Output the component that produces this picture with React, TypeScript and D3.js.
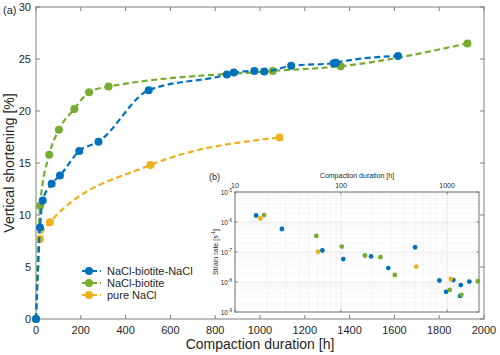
import React from "react";
import * as d3 from "d3";

// ---- Data (main panel a) ----
const blueMainT = [0, 18, 30, 70, 107, 193, 279, 503, 852, 883, 975, 1019, 1139, 1329, 1339, 1616];
const blueMainV = [0, 8.8, 11.4, 13.0, 13.8, 16.15, 17.05, 22.0, 23.5, 23.7, 23.85, 23.8, 24.35, 24.6, 24.65, 25.3];
const greenMainT = [0, 18, 59, 102, 171, 237, 324, 1057, 1360, 1926];
const greenMainV = [0, 10.9, 15.8, 18.2, 20.2, 21.8, 22.35, 23.85, 24.3, 26.5];
const orangeMainT = [0, 18, 62, 511, 1087];
const orangeMainV = [0, 7.7, 9.3, 14.8, 17.45];

// ---- Data (inset panel b) ----
const blueRateT = [15.8, 27.7, 66.7, 105, 192, 279, 499, 846, 979, 1146, 1346, 1327, 1622];
const blueRateV = [1.65e-6, 5.85e-7, 1.12e-7, 5.8e-8, 7.1e-8, 2.92e-8, 1.44e-7, 1.12e-8, 4.7e-9, 1.16e-8, 7.9e-9, 3.43e-9, 1.03e-8];
const greenRateT = [18.8, 58.5, 101.6, 168, 235, 321, 1059, 1365, 1950];
const greenRateV = [1.7e-6, 3.44e-7, 1.52e-7, 7.65e-8, 6.73e-8, 1.71e-8, 5.46e-9, 3.73e-9, 1.06e-8];
const orangeRateT = [17.3, 60.7, 511, 1084];
const orangeRateV = [1.31e-6, 1.02e-7, 3.24e-8, 1.26e-8];

const seriesNames = ["NaCl-biotite-NaCl", "NaCl-biotite", "pure NaCl"];
const colors = ["#0072BD", "#77AC30", "#EDB120"];

const xTicks = [0, 200, 400, 600, 800, 1000, 1200, 1400, 1600, 1800, 2000];
const yTicks = [0, 5, 10, 15, 20, 25, 30];
const insetXTicks = [10, 100, 1000];
const insetYExp = [-5, -6, -7, -8, -9];

const FONT = "'Liberation Sans', Arial, Helvetica, sans-serif";

export default function App() {
  const W = 500, H = 355;
  const L = 36, R = 484, T = 7, B = 319;
  const x = d3.scaleLinear().domain([0, 2000]).range([L, R]);
  const y = d3.scaleLinear().domain([0, 30]).range([B, T]);
  const line = d3
    .line<[number, number]>()
    .x((d) => x(d[0]))
    .y((d) => y(d[1]))
    .curve(d3.curveMonotoneX);

  const mains = [
    { t: blueMainT, v: blueMainV, c: colors[0] },
    { t: greenMainT, v: greenMainV, c: colors[1] },
    { t: orangeMainT, v: orangeMainV, c: colors[2] },
  ];
  const drawOrder = [2, 1, 0];

  // inset
  const iL = 235, iR = 479, iT = 192, iB = 312;
  const ix = d3.scaleLog().domain([10, 2000]).range([iL, iR]);
  const iy = d3.scaleLog().domain([1e-9, 1e-5]).range([iB, iT]);
  const rates = [
    { t: blueRateT, v: blueRateV, c: colors[0] },
    { t: greenRateT, v: greenRateV, c: colors[1] },
    { t: orangeRateT, v: orangeRateV, c: colors[2] },
  ];
  const minorX: number[] = [];
  for (const dec of [10, 100, 1000]) {
    for (let k = 2; k <= 9; k++) {
      const v = dec * k;
      if (v <= 2000) minorX.push(v);
    }
  }
  const minorY: number[] = [];
  for (let e = -9; e < -5; e++) {
    for (let k = 2; k <= 9; k++) minorY.push(k * Math.pow(10, e));
  }

  const axisGrey = "#7f7f7f";
  const tickText = "#262626";

  return (
    <svg width={W} height={H} style={{ position: "absolute", left: 0, top: 0, background: "#fff" }} fontFamily={FONT}>
      <rect x={0} y={0} width={W} height={H} fill="#fff" />
      {/* main axes box */}
      <rect x={L} y={T} width={R - L} height={B - T} fill="none" stroke={axisGrey} strokeWidth={1} />
      {xTicks.map((t) => (
        <g key={"xt" + t}>
          <line x1={x(t)} x2={x(t)} y1={B} y2={B - 4} stroke={axisGrey} />
          <line x1={x(t)} x2={x(t)} y1={T} y2={T + 4} stroke={axisGrey} />
          <text x={x(t)} y={B + 15} fontSize={11} textAnchor="middle" fill={tickText}>
            {t}
          </text>
        </g>
      ))}
      {yTicks.map((t) => (
        <g key={"yt" + t}>
          <line x1={L} x2={L + 4} y1={y(t)} y2={y(t)} stroke={axisGrey} />
          <line x1={R} x2={R - 4} y1={y(t)} y2={y(t)} stroke={axisGrey} />
          <text x={L - 5} y={y(t) + 4} fontSize={11} textAnchor="end" fill={tickText}>
            {t}
          </text>
        </g>
      ))}
      <text x={(L + R) / 2} y={349} fontSize={14} textAnchor="middle" fill={tickText}>
        Compaction duration [h]
      </text>
      <text transform={`translate(14,${(T + B) / 2}) rotate(-90)`} fontSize={14} textAnchor="middle" fill={tickText}>
        Vertical shortening [%]
      </text>
      <text x={3} y={14} fontSize={11} fill={tickText}>(a)</text>

      {/* inset background */}
      <rect x={iL} y={iT} width={iR - iL} height={iB - iT} fill="#fff" />

      {/* main series */}
      {drawOrder.map((i) => {
        const s = mains[i];
        const pts = s.t.map((t, j) => [t, s.v[j]] as [number, number]);
        return (
          <g key={"s" + i}>
            <path d={line(pts) || ""} fill="none" stroke={s.c} strokeWidth={2.2} strokeDasharray="6,3.5" />
            {pts.map((p, j) => (
              <circle key={j} cx={x(p[0])} cy={y(p[1])} r={4} fill={s.c} />
            ))}
          </g>
        );
      })}

      {/* legend */}
      {seriesNames.map((n, i) => {
        const ly = 271 + i * 12;
        return (
          <g key={"lg" + i}>
            <line x1={82} x2={101} y1={ly} y2={ly} stroke={colors[i]} strokeWidth={2.2} strokeDasharray="6,3" />
            <circle cx={89} cy={ly} r={4} fill={colors[i]} />
            <text x={107} y={ly + 4} fontSize={11} fill={tickText}>
              {n}
            </text>
          </g>
        );
      })}

      {/* inset grid */}
      {minorX.map((v) => (
        <line key={"mx" + v} x1={ix(v)} x2={ix(v)} y1={iT} y2={iB} stroke="#f0f0f0" strokeWidth={0.6} />
      ))}
      {minorY.map((v, k) => (
        <line key={"my" + k} x1={iL} x2={iR} y1={iy(v)} y2={iy(v)} stroke="#f0f0f0" strokeWidth={0.6} />
      ))}
      {insetXTicks.map((v) => (
        <line key={"gx" + v} x1={ix(v)} x2={ix(v)} y1={iT} y2={iB} stroke="#e3e3e3" strokeWidth={0.7} />
      ))}
      {insetYExp.map((e) => (
        <line key={"gy" + e} x1={iL} x2={iR} y1={iy(Math.pow(10, e))} y2={iy(Math.pow(10, e))} stroke="#e3e3e3" strokeWidth={0.7} />
      ))}
      <rect x={iL} y={iT} width={iR - iL} height={iB - iT} fill="none" stroke="#8a8a8a" strokeWidth={1.2} />
      {insetXTicks.map((v) => (
        <g key={"ixt" + v}>
          <line x1={ix(v)} x2={ix(v)} y1={iT} y2={iT + 2.5} stroke={axisGrey} />
          <line x1={ix(v)} x2={ix(v)} y1={iB} y2={iB - 2.5} stroke={axisGrey} />
          <text x={ix(v)} y={iT - 4} fontSize={7} textAnchor="middle" fill={tickText}>
            {v}
          </text>
        </g>
      ))}
      {insetYExp.map((e) => {
        const yy = iy(Math.pow(10, e));
        return (
          <g key={"iyt" + e}>
            <line x1={iL} x2={iL + 2.5} y1={yy} y2={yy} stroke={axisGrey} />
            <line x1={iR} x2={iR - 2.5} y1={yy} y2={yy} stroke={axisGrey} />
            <text x={iL - 3} y={yy + 2.5} fontSize={6.5} textAnchor="end" fill={tickText}>
              10<tspan dy={-3} fontSize={4.5}>{e}</tspan>
            </text>
          </g>
        );
      })}
      <text x={(iL + iR) / 2} y={178} fontSize={7} textAnchor="middle" fill={tickText}>
        Compaction duration [h]
      </text>
      <text transform={`translate(218,${(iT + iB) / 2}) rotate(-90)`} fontSize={7} textAnchor="middle" fill={tickText}>
        Strain rate [s<tspan dy={-3} fontSize={5}>-1</tspan><tspan dy={3}>]</tspan>
      </text>
      <text x={209} y={180} fontSize={9} fill={tickText}>(b)</text>

      {rates.map((s, i) => (
        <g key={"r" + i}>
          {s.t.map((t, j) => (
            <circle key={j} cx={ix(t)} cy={iy(s.v[j])} r={2.4} fill={s.c} />
          ))}
        </g>
      ))}
    </svg>
  );
}
